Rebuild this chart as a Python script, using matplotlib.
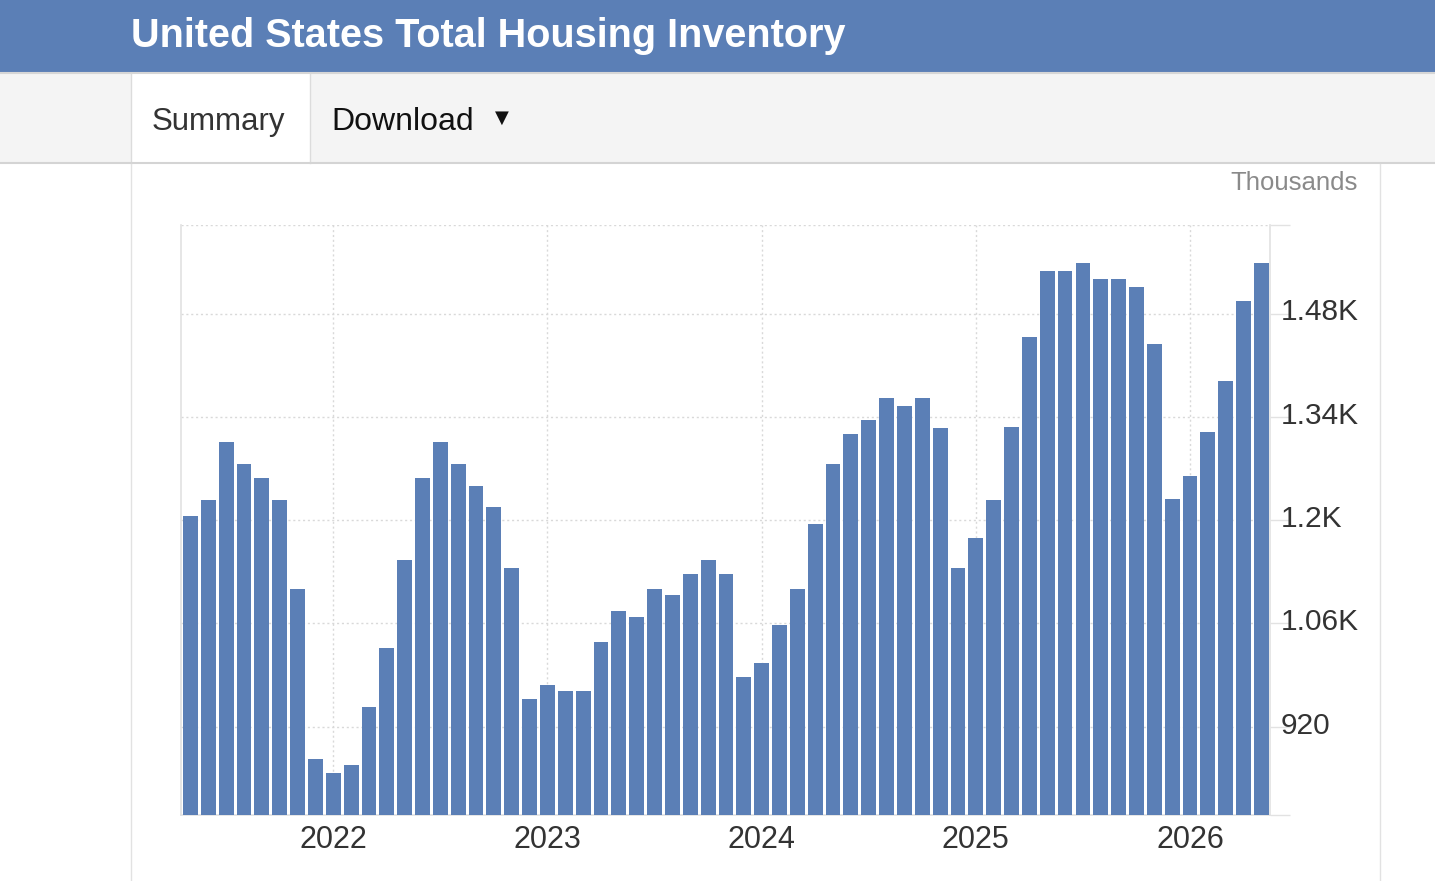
import numpy as np
import pandas as pd
import matplotlib
matplotlib.use("Agg")
import matplotlib.pyplot as plt
import matplotlib.transforms as mtransforms
from matplotlib.patches import Rectangle
from matplotlib.lines import Line2D

plt.rcParams['font.family'] = ['Liberation Sans', 'DejaVu Sans']

# Data: monthly total housing inventory (thousands), May 2021 - May 2026
start_month = "2021-05"
inventory = [1206, 1227, 1306, 1276, 1257, 1227, 1106, 876, 857, 868, 946, 1027,
             1146, 1257, 1306, 1276, 1246, 1217, 1135, 957, 976, 968, 968, 1035,
             1076, 1068, 1106, 1098, 1127, 1146, 1127, 987, 1006, 1057, 1106, 1195,
             1276, 1317, 1336, 1365, 1355, 1365, 1325, 1135, 1176, 1227, 1326, 1448,
             1538, 1538, 1548, 1527, 1527, 1516, 1438, 1229, 1259, 1319, 1389, 1497, 1548]
y_ticks = [800, 920, 1060, 1200, 1340, 1480, 1600]
y_labels = ["", "920", "1.06K", "1.2K", "1.34K", "1.48K", ""]

BLUE = "#5b7fb6"
W, H = 1435, 881

fig = plt.figure(figsize=(W / 100, H / 100), dpi=100)


def fx(x):
    return x / W


def fy(y):
    return 1 - y / H


def rect(x0, y0, x1, y1, color, z=0):
    fig.add_artist(Rectangle((fx(x0), fy(y1)), fx(x1) - fx(x0), fy(y0) - fy(y1),
                             transform=fig.transFigure, color=color, lw=0, zorder=z))


def line(x0, y0, x1, y1, color, lw=1.0, z=1):
    fig.add_artist(Line2D([fx(x0), fx(x1)], [fy(y0), fy(y1)],
                          transform=fig.transFigure, color=color, lw=lw, zorder=z))


# header band
rect(0, 0, W, 72, BLUE)
line(0, 73, W, 73, "#d6d6d6", lw=1.5)
fig.text(fx(131), fy(36), "United States Total Housing Inventory", color="white",
         fontsize=28.5, fontweight="bold", va="center", ha="left")

# tab bar
rect(0, 74, W, 162, "#f4f4f4")
rect(131, 74, 310, 163, "white", z=0.5)
line(131, 74, 131, 163, "#dcdcdc")
line(310, 74, 310, 163, "#dcdcdc")
line(0, 163, W, 163, "#d4d4d4", lw=1.5)
fig.text(fx(152), fy(122), "Summary", color="#333333", fontsize=22.5, va="center", ha="left")
fig.text(fx(331), fy(122), "Download", color="#111111", fontsize=23, va="center", ha="left")
fig.text(fx(502), fy(118), "\u25BC", color="#111111", fontsize=13, va="center", ha="center",
         family=['DejaVu Sans'])

# panel borders
line(131, 164, 131, H, "#e2e2e2")
line(1380, 164, 1380, H, "#e2e2e2")
fig.text(fx(1358), fy(183), "Thousands", color="#8a8a8a", fontsize=18.5, va="center", ha="right")

# chart
ax = fig.add_axes([fx(181), fy(815), fx(1270) - fx(181), fy(225) - fy(815)])
months = pd.date_range(start_month, periods=len(inventory), freq="MS")
xpos = np.arange(len(inventory))
ax.bar(xpos, inventory, width=0.83, color=BLUE, zorder=3)

ax.set_ylim(y_ticks[0], y_ticks[-1])
ax.set_xlim(-0.53, len(inventory) - 0.52)

year_idx = xpos[months.month == 1]
ax.set_xticks(year_idx)
ax.set_xticklabels([str(d.year) for d in months[year_idx]])
ax.set_yticks(y_ticks)
ax.set_yticklabels(y_labels)

ax.yaxis.tick_right()
ax.tick_params(axis="y", length=14.5, width=1, color="#e2e2e2", pad=-6.5,
               labelsize=21.5, labelcolor="#333333")
ax.tick_params(axis="x", length=0, pad=7, labelsize=22, labelcolor="#333333")

# nudge the value labels up a little, as in the original
shift = mtransforms.ScaledTranslation(0, 4 / 100, fig.dpi_scale_trans)
for lbl in ax.get_yticklabels():
    lbl.set_transform(lbl.get_transform() + shift)

ax.grid(True, color="#d9d9d9", linestyle=(0, (1.5, 2)), linewidth=1, zorder=0)
for s in ["left", "bottom", "right"]:
    ax.spines[s].set_color("#e2e2e2")
    ax.spines[s].set_linewidth(1.2)
ax.spines["top"].set_visible(False)

fig.savefig("out.png", dpi=100)
